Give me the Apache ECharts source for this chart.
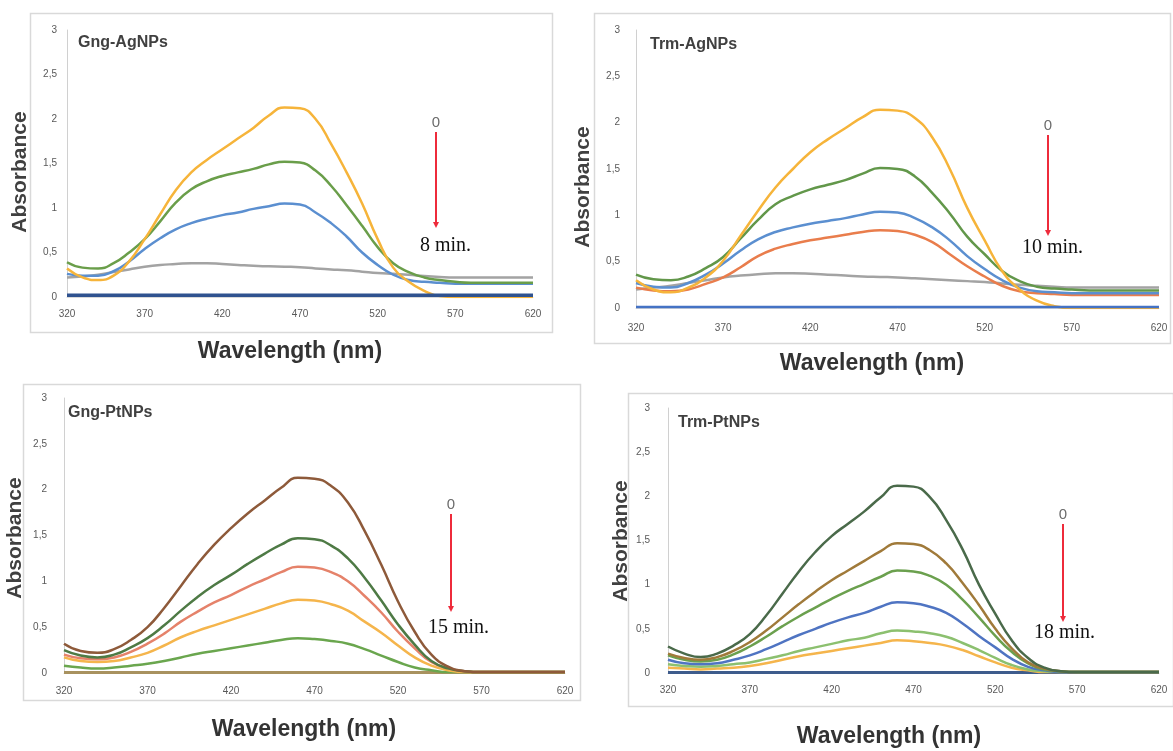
<!DOCTYPE html>
<html>
<head>
<meta charset="utf-8">
<script src="https://cdn.jsdelivr.net/npm/echarts@6/dist/echarts.min.js"></script>
<style>
    html, body { margin: 0; padding: 0; background: #fff; }
    #uv_panels { width: 1173px; height: 751px; }
</style>
</head>
<body>
<div id="uv_panels"></div>
<script>

// Wavelength categories (nm)
var wavelengths = [320, 330, 340, 350, 360, 370, 380, 390, 400, 410, 420, 430, 440, 450, 460, 470,
    480, 490, 500, 510, 520, 530, 540, 550, 560, 570, 580, 590, 600, 610, 620];

// Absorbance tick labels (comma decimals)
var absTickLabels = ['0', '0,5', '1', '1,5', '2', '2,5', '3'];

// Gng-AgNPs
var gngAgGold = [0.32, 0.22, 0.19, 0.24, 0.40, 0.65, 0.93, 1.20, 1.40, 1.54, 1.66, 1.78, 1.90, 2.04, 2.13, 2.12, 2.00, 1.72, 1.40, 1.05, 0.65, 0.33, 0.17, 0.07, 0.01, 0, 0, 0, 0, 0, 0];
var gngAgGreen = [0.39, 0.33, 0.32, 0.38, 0.50, 0.65, 0.85, 1.06, 1.21, 1.30, 1.36, 1.40, 1.44, 1.49, 1.52, 1.51, 1.42, 1.25, 1.03, 0.80, 0.56, 0.38, 0.28, 0.22, 0.19, 0.17, 0.16, 0.16, 0.16, 0.16, 0.16];
var gngAgBlue = [0.26, 0.24, 0.24, 0.29, 0.40, 0.54, 0.66, 0.76, 0.83, 0.88, 0.92, 0.95, 0.99, 1.02, 1.05, 1.04, 0.95, 0.83, 0.68, 0.50, 0.36, 0.25, 0.19, 0.17, 0.16, 0.15, 0.15, 0.15, 0.15, 0.15, 0.15];
var gngAgGray = [0.22, 0.23, 0.25, 0.28, 0.31, 0.34, 0.36, 0.37, 0.38, 0.38, 0.37, 0.36, 0.35, 0.345, 0.34, 0.335, 0.32, 0.31, 0.30, 0.285, 0.27, 0.26, 0.25, 0.235, 0.225, 0.22, 0.22, 0.22, 0.22, 0.22, 0.22];
var gngAgBase = [0.02, 0.02, 0.02, 0.02, 0.02, 0.02, 0.02, 0.02, 0.02, 0.02, 0.02, 0.02, 0.02, 0.02, 0.02, 0.02, 0.02, 0.02, 0.02, 0.02, 0.02, 0.02, 0.02, 0.02, 0.02, 0.02, 0.02, 0.02, 0.02, 0.02, 0.02];

// Trm-AgNPs
var trmAgGold = [0.30, 0.20, 0.17, 0.22, 0.33, 0.51, 0.78, 1.05, 1.30, 1.50, 1.68, 1.82, 1.94, 2.06, 2.14, 2.13, 2.05, 1.84, 1.50, 1.08, 0.73, 0.40, 0.20, 0.08, 0.02, 0, 0, 0, 0, 0, 0];
var trmAgGreen = [0.36, 0.31, 0.30, 0.34, 0.43, 0.55, 0.75, 0.95, 1.12, 1.21, 1.28, 1.33, 1.38, 1.45, 1.51, 1.50, 1.42, 1.24, 1.02, 0.77, 0.58, 0.40, 0.29, 0.23, 0.21, 0.20, 0.19, 0.19, 0.19, 0.19, 0.19];
var trmAgBlue = [0.27, 0.23, 0.22, 0.27, 0.36, 0.48, 0.62, 0.74, 0.82, 0.87, 0.91, 0.94, 0.97, 1.01, 1.04, 1.03, 0.97, 0.87, 0.73, 0.56, 0.42, 0.30, 0.22, 0.18, 0.17, 0.16, 0.16, 0.16, 0.16, 0.16, 0.16];
var trmAgRed = [0.22, 0.19, 0.18, 0.20, 0.26, 0.33, 0.44, 0.56, 0.64, 0.69, 0.73, 0.76, 0.79, 0.82, 0.84, 0.83, 0.79, 0.71, 0.58, 0.45, 0.34, 0.24, 0.18, 0.16, 0.15, 0.14, 0.14, 0.14, 0.14, 0.14, 0.14];
var trmAgGray = [0.20, 0.22, 0.24, 0.27, 0.30, 0.33, 0.35, 0.365, 0.375, 0.375, 0.37, 0.36, 0.35, 0.34, 0.335, 0.33, 0.32, 0.31, 0.30, 0.29, 0.28, 0.265, 0.25, 0.24, 0.23, 0.22, 0.22, 0.22, 0.22, 0.22, 0.22];
var trmAgBase = [0.01, 0.01, 0.01, 0.01, 0.01, 0.01, 0.01, 0.01, 0.01, 0.01, 0.01, 0.01, 0.01, 0.01, 0.01, 0.01, 0.01, 0.01, 0.01, 0.01, 0.01, 0.01, 0.01, 0.01, 0.01, 0.01, 0.01, 0.01, 0.01, 0.01, 0.01];

// Gng-PtNPs
var gngPtBrown = [0.32, 0.24, 0.22, 0.26, 0.36, 0.50, 0.71, 0.95, 1.19, 1.40, 1.58, 1.74, 1.88, 2.02, 2.13, 2.12, 2.04, 1.86, 1.55, 1.18, 0.78, 0.45, 0.20, 0.07, 0.02, 0.01, 0.01, 0.01, 0.01, 0.01, 0.01];
var gngPtDkGreen = [0.25, 0.19, 0.17, 0.20, 0.28, 0.38, 0.52, 0.68, 0.83, 0.96, 1.07, 1.19, 1.30, 1.40, 1.47, 1.46, 1.39, 1.25, 1.04, 0.79, 0.53, 0.31, 0.13, 0.05, 0.02, 0.01, 0.01, 0.01, 0.01, 0.01, 0.01];
var gngPtSalmon = [0.20, 0.16, 0.15, 0.17, 0.23, 0.32, 0.43, 0.56, 0.67, 0.77, 0.85, 0.94, 1.02, 1.10, 1.16, 1.15, 1.10, 1.00, 0.84, 0.66, 0.45, 0.27, 0.12, 0.05, 0.02, 0.01, 0.01, 0.01, 0.01, 0.01, 0.01];
var gngPtGold = [0.17, 0.13, 0.12, 0.13, 0.17, 0.22, 0.30, 0.39, 0.46, 0.52, 0.58, 0.64, 0.70, 0.76, 0.80, 0.79, 0.75, 0.68, 0.56, 0.44, 0.30, 0.17, 0.08, 0.03, 0.01, 0.01, 0.01, 0.01, 0.01, 0.01, 0.01];
var gngPtGreen = [0.08, 0.06, 0.05, 0.06, 0.08, 0.10, 0.13, 0.17, 0.21, 0.24, 0.27, 0.30, 0.33, 0.36, 0.38, 0.37, 0.35, 0.32, 0.26, 0.19, 0.12, 0.06, 0.03, 0.01, 0.01, 0.01, 0.01, 0.01, 0.01, 0.01, 0.01];
var gngPtBase = [0.005, 0.005, 0.005, 0.005, 0.005, 0.005, 0.005, 0.005, 0.005, 0.005, 0.005, 0.005, 0.005, 0.005, 0.005, 0.005, 0.005, 0.005, 0.005, 0.005, 0.005, 0.005, 0.005, 0.005, 0.005, 0.005, 0.005, 0.005, 0.005, 0.005, 0.005];

// Trm-PtNPs
var trmPtDkGreen = [0.30, 0.22, 0.18, 0.22, 0.31, 0.44, 0.65, 0.90, 1.15, 1.37, 1.55, 1.69, 1.83, 1.99, 2.12, 2.11, 1.99, 1.73, 1.40, 1.00, 0.67, 0.37, 0.17, 0.06, 0.02, 0.01, 0.01, 0.01, 0.01, 0.01, 0.01];
var trmPtBrown = [0.22, 0.17, 0.15, 0.18, 0.25, 0.35, 0.48, 0.63, 0.78, 0.92, 1.05, 1.16, 1.27, 1.38, 1.47, 1.46, 1.39, 1.24, 1.02, 0.77, 0.50, 0.28, 0.12, 0.05, 0.02, 0.01, 0.01, 0.01, 0.01, 0.01, 0.01];
var trmPtGreen = [0.20, 0.15, 0.13, 0.15, 0.21, 0.30, 0.41, 0.53, 0.64, 0.74, 0.84, 0.93, 1.01, 1.09, 1.16, 1.15, 1.10, 1.00, 0.83, 0.63, 0.42, 0.24, 0.11, 0.04, 0.02, 0.01, 0.01, 0.01, 0.01, 0.01, 0.01];
var trmPtBlue = [0.15, 0.11, 0.10, 0.11, 0.15, 0.20, 0.27, 0.35, 0.43, 0.50, 0.57, 0.63, 0.68, 0.75, 0.80, 0.79, 0.75, 0.68, 0.56, 0.42, 0.29, 0.16, 0.07, 0.03, 0.01, 0.01, 0.01, 0.01, 0.01, 0.01, 0.01];
var trmPtLtGreen = [0.10, 0.08, 0.07, 0.08, 0.10, 0.12, 0.16, 0.20, 0.25, 0.29, 0.33, 0.37, 0.40, 0.45, 0.48, 0.47, 0.45, 0.41, 0.34, 0.26, 0.17, 0.09, 0.04, 0.02, 0.01, 0.01, 0.01, 0.01, 0.01, 0.01, 0.01];
var trmPtGold = [0.06, 0.05, 0.04, 0.05, 0.06, 0.08, 0.11, 0.15, 0.19, 0.22, 0.25, 0.28, 0.31, 0.34, 0.37, 0.36, 0.34, 0.31, 0.26, 0.19, 0.12, 0.06, 0.03, 0.01, 0.01, 0.01, 0.01, 0.01, 0.01, 0.01, 0.01];
var trmPtBase = [0.005, 0.005, 0.005, 0.005, 0.005, 0.005, 0.005, 0.005, 0.005, 0.005, 0.005, 0.005, 0.005, 0.005, 0.005, 0.005, 0.005, 0.005, 0.005, 0.005, 0.005, 0.005, 0.005, 0.005, 0.005, 0.005, 0.005, 0.005, 0.005, 0.005, 0.005];

// Panel titles and time labels
var panelTitles = ['Gng-AgNPs', 'Trm-AgNPs', 'Gng-PtNPs', 'Trm-PtNPs'];
var endTimes = ['8 min.', '10 min.', '15 min.', '18 min.'];


// Panel layout (plot area, frame, labels)
var panels = [
    {
        grid: { left: 67, top: 30, width: 466, height: 267 },
        frame: [30, 13, 522, 319],
        title: [78, 43], absName: [20, 172], wlName: [290, 352],
        arrow: [436, 123, 228], endText: [420, 246],
        labelGapY: 10, labelGapX: 12,
        lines: [
            { data: gngAgGray, color: '#a3a3a3' },
            { data: gngAgBlue, color: '#5b8fd0' },
            { data: gngAgGreen, color: '#6a9e4a' },
            { data: gngAgGold, color: '#f6b43a' },
            { data: gngAgBase, color: '#2f528f', width: 3.5 }
        ]
    },
    {
        grid: { left: 636, top: 30, width: 523, height: 278 },
        frame: [594, 13, 576, 330],
        title: [650, 45], absName: [583, 187], wlName: [872, 364],
        arrow: [1048, 126, 236], endText: [1022, 248],
        labelGapY: 16, labelGapX: 15,
        lines: [
            { data: trmAgGray, color: '#a3a3a3' },
            { data: trmAgRed, color: '#e97d4c' },
            { data: trmAgBlue, color: '#5b8fd0' },
            { data: trmAgGreen, color: '#62974a' },
            { data: trmAgGold, color: '#f6b43a' },
            { data: trmAgBase, color: '#4472c4' }
        ]
    },
    {
        grid: { left: 64, top: 398, width: 501, height: 275 },
        frame: [23, 384, 557, 316],
        title: [68, 413], absName: [15, 538], wlName: [304, 730],
        arrow: [451, 505, 612], endText: [428, 628],
        labelGapY: 17, labelGapX: 13,
        lines: [
            { data: gngPtBase, color: '#a8925f', width: 3 },
            { data: gngPtGreen, color: '#6aa64e' },
            { data: gngPtGold, color: '#f5b54c' },
            { data: gngPtSalmon, color: '#e5826a' },
            { data: gngPtDkGreen, color: '#4e7a45' },
            { data: gngPtBrown, color: '#8e5a3a' }
        ]
    },
    {
        grid: { left: 668, top: 408, width: 491, height: 265 },
        frame: [628, 393, 545, 313],
        title: [678, 423], absName: [621, 541], wlName: [889, 737],
        arrow: [1063, 515, 622], endText: [1034, 633],
        labelGapY: 18, labelGapX: 12,
        lines: [
            { data: trmPtBase, color: '#3e5c8c', width: 3 },
            { data: trmPtGold, color: '#f5b54c' },
            { data: trmPtLtGreen, color: '#8cc06f' },
            { data: trmPtBlue, color: '#4f74c2' },
            { data: trmPtGreen, color: '#6ba04e' },
            { data: trmPtBrown, color: '#a07a3a' },
            { data: trmPtDkGreen, color: '#4a6a4a' }
        ]
    }
];


// Define element
var uv_element = document.getElementById('uv_panels');
var uv_chart = echarts.init(uv_element);

var grids = [], xAxes = [], yAxes = [], series = [], graphics = [];

panels.forEach(function (p, i) {

    grids.push(p.grid);

    // Horizontal axis
    xAxes.push({
        gridIndex: i,
        type: 'category',
        boundaryGap: false,
        data: wavelengths,
        axisLine: { lineStyle: { color: '#d9d9d9', width: 1 } },
        axisTick: { show: false },
        axisLabel: {
            interval: 4,
            margin: p.labelGapX,
            color: '#595959',
            fontSize: 10,
            fontFamily: 'Liberation Sans, Arial, sans-serif'
        },
        splitLine: { show: false }
    });

    // Vertical axis
    yAxes.push({
        gridIndex: i,
        type: 'value',
        min: 0,
        max: 3,
        interval: 0.5,
        axisLine: { show: true, lineStyle: { color: '#d0d0d0', width: 1 } },
        axisTick: { show: false },
        axisLabel: {
            margin: p.labelGapY,
            color: '#595959',
            fontSize: 10,
            fontFamily: 'Liberation Sans, Arial, sans-serif',
            formatter: function (v) {
                return absTickLabels[Math.round(v * 2)];
            }
        },
        splitLine: { show: false }
    });

    // Add series
    p.lines.forEach(function (l) {
        series.push({
            type: 'line',
            xAxisIndex: i,
            yAxisIndex: i,
            smooth: 0.5,
            symbol: 'none',
            silent: true,
            lineStyle: { color: l.color, width: l.width || 2.5 },
            data: l.data
        });
    });

    // Chart frame
    graphics.push({
        type: 'rect',
        silent: true,
        z: -1,
        shape: { x: p.frame[0] + 0.5, y: p.frame[1] + 0.5, width: p.frame[2], height: p.frame[3] },
        style: { fill: 'none', stroke: '#d9d9d9', lineWidth: 1.5 }
    });

    // Panel title
    graphics.push({
        type: 'text', x: p.title[0], y: p.title[1],
        style: {
            text: panelTitles[i], fill: '#404040',
            font: 'bold 16px "Liberation Sans", Arial, sans-serif',
            verticalAlign: 'middle'
        }
    });

    // Axis names
    graphics.push({
        type: 'text', x: p.absName[0], y: p.absName[1], rotation: Math.PI / 2,
        style: {
            text: 'Absorbance', fill: '#404040',
            font: 'bold 21px "Liberation Sans", Arial, sans-serif',
            align: 'center', verticalAlign: 'middle'
        }
    });
    graphics.push({
        type: 'text', x: p.wlName[0], y: p.wlName[1],
        style: {
            text: 'Wavelength (nm)', fill: '#333333',
            font: 'bold 23px "Liberation Sans", Arial, sans-serif',
            align: 'center', verticalAlign: 'middle'
        }
    });

    // Time arrow: 0 -> end
    graphics.push({
        type: 'text', x: p.arrow[0], y: p.arrow[1],
        style: {
            text: '0', fill: '#6b6b6b',
            font: '15px "Liberation Sans", Arial, sans-serif',
            align: 'center', verticalAlign: 'middle'
        }
    });
    graphics.push({
        type: 'line',
        shape: { x1: p.arrow[0], y1: p.arrow[1] + 9, x2: p.arrow[0], y2: p.arrow[2] - 3 },
        style: { stroke: '#ee2b3b', lineWidth: 2 }
    });
    graphics.push({
        type: 'polygon',
        shape: { points: [[p.arrow[0] - 3, p.arrow[2] - 6], [p.arrow[0] + 3, p.arrow[2] - 6], [p.arrow[0], p.arrow[2]]] },
        style: { fill: '#ee2b3b' }
    });
    graphics.push({
        type: 'text', x: p.endText[0], y: p.endText[1],
        style: {
            text: endTimes[i], fill: '#111111',
            font: '20px "Liberation Serif", "Times New Roman", serif',
            verticalAlign: 'middle'
        }
    });
});

// Options
uv_chart.setOption({
    backgroundColor: '#ffffff',
    animation: false,
    grid: grids,
    xAxis: xAxes,
    yAxis: yAxes,
    series: series,
    graphic: graphics
});

</script>
</body>
</html>
